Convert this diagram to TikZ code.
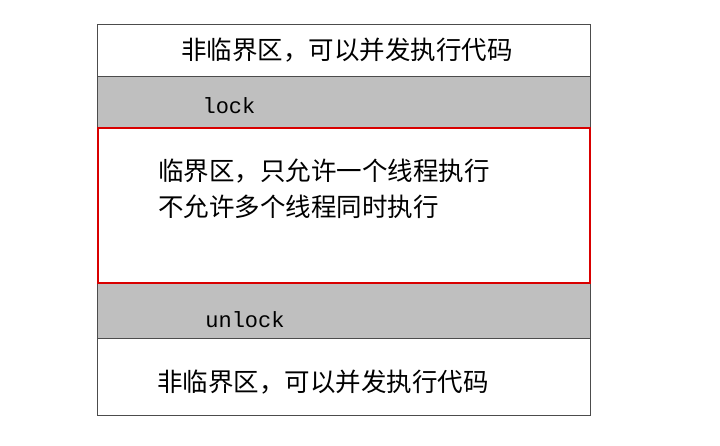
\documentclass[tikz,border=0pt]{standalone}
\usepackage{fontspec}
\newfontfamily\cjk{Noto Sans CJK SC}
\setmonofont{Liberation Mono}
\begin{document}
\begin{tikzpicture}[x=1pt,y=-1pt,
  band/.style={draw=black!70,line width=0.8pt},
  ct/.style={font=\cjk\fontsize{25.5}{30}\selectfont,inner sep=0pt},
  mt/.style={font=\ttfamily\fontsize{22}{26}\selectfont,inner sep=0pt}]
\useasboundingbox (0,0) rectangle (720,445);
\fill[white] (0,0) rectangle (720,445);
\draw[band] (97,24) rectangle (590,76);
\draw[band,fill=black!25] (97,76) rectangle (590,127);
\draw[band,fill=black!25] (97,283) rectangle (590,338);
\draw[band] (97,338) rectangle (590,415);
\draw[draw=red!85!black,line width=1.4pt,fill=white] (98,128) rectangle (590,283);
\node[ct] (t1) at (347,50) {非临界区，可以并发执行代码};
\node[mt] (l1) at (229,106) {lock};
\node[ct,anchor=west] (t2) at (158,171) {临界区，只允许一个线程执行};
\node[ct,anchor=west] (t3) at (158,207) {不允许多个线程同时执行};
\node[mt] (l2) at (245,320) {unlock};
\node[ct] (t4) at (323,382) {非临界区，可以并发执行代码};
\end{tikzpicture}
\end{document}
